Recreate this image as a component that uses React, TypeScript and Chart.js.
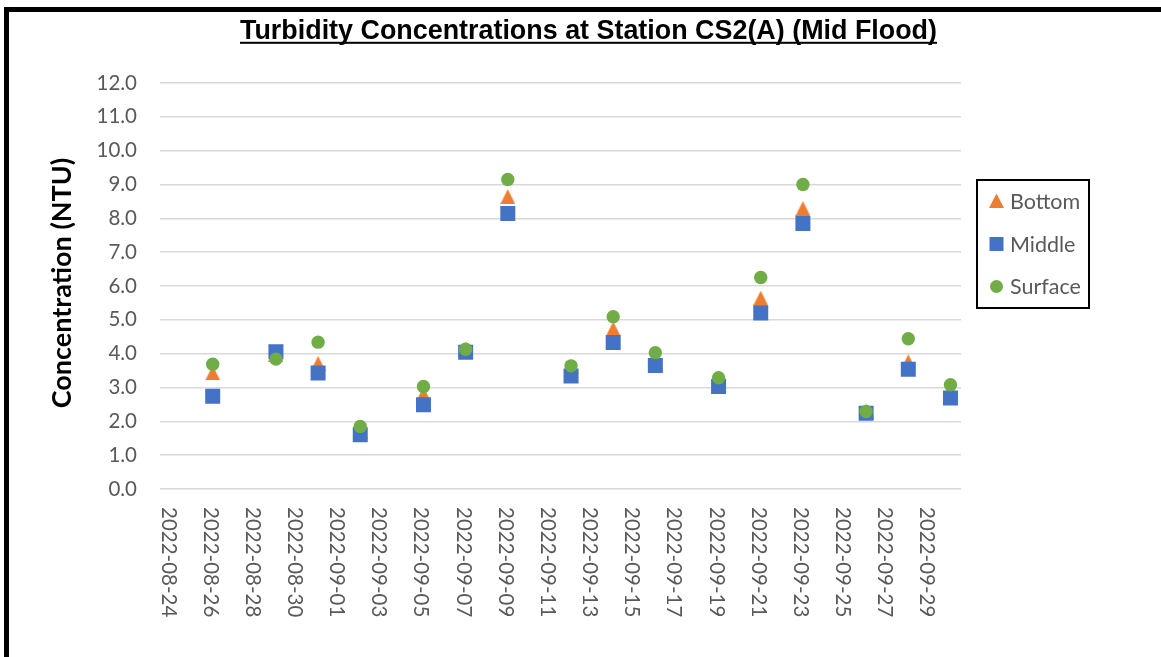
import React, { useEffect, useRef } from 'react';
import { Chart, registerables } from 'chart.js';

Chart.register(...registerables);

// Sampling dates and turbidity readings (NTU) at three depths
const sampleDates = [
  '2022-08-26', '2022-08-29', '2022-08-31', '2022-09-02', '2022-09-05', '2022-09-07',
  '2022-09-09', '2022-09-12', '2022-09-14', '2022-09-16', '2022-09-19', '2022-09-21',
  '2022-09-23', '2022-09-26', '2022-09-28', '2022-09-30',
];
const bottomNTU = [3.43, 3.98, 3.71, 1.7, 2.8, 4.13, 8.64, 3.62, 4.73, 3.72, 3.12, 5.64, 8.29, 2.3, 3.76, 2.92];
const middleNTU = [2.74, 4.06, 3.43, 1.6, 2.49, 4.04, 8.14, 3.34, 4.33, 3.65, 3.03, 5.2, 7.85, 2.24, 3.54, 2.69];
const surfaceNTU = [3.69, 3.84, 4.34, 1.85, 3.03, 4.13, 9.15, 3.64, 5.09, 4.03, 3.29, 6.25, 9.0, 2.29, 4.44, 3.08];

const axisFirstDay = '2022-08-24';
const axisLastDay = '2022-09-30';
const yMin = 0;
const yMax = 12;
const yStep = 1;

const chartTitle = 'Turbidity Concentrations at Station CS2(A) (Mid Flood)';
const yTitle = 'Concentration (NTU)';
const seriesNames = ['Bottom', 'Middle', 'Surface'];

const ORANGE = '#ED7D31';
const BLUE = '#4472C4';
const GREEN = '#70AD47';
const TICK_COLOR = '#595959';
const FONT = 'Lato, "Open Sans", sans-serif';

function dayLabels(first: string, last: string): string[] {
  const out: string[] = [];
  const d = new Date(first + 'T00:00:00Z');
  const end = new Date(last + 'T00:00:00Z');
  while (d.getTime() <= end.getTime()) {
    out.push(d.toISOString().slice(0, 10));
    d.setUTCDate(d.getUTCDate() + 1);
  }
  return out;
}

// Triangle marker that fills its square box, centred on the value
function triangleMarker(size: number, color: string): HTMLCanvasElement {
  const c = document.createElement('canvas');
  c.width = size;
  c.height = size;
  const g = c.getContext('2d')!;
  g.fillStyle = color;
  g.beginPath();
  g.moveTo(size / 2, 0);
  g.lineTo(size, size);
  g.lineTo(0, size);
  g.closePath();
  g.fill();
  return c;
}

const decorPlugin = {
  id: 'excelDecor',
  afterDraw(chart: any) {
    const ctx: CanvasRenderingContext2D = chart.ctx;
    const xScale = chart.scales.x;
    const labels: string[] = chart.data.labels;
    ctx.save();

    // outer frame (top and left edges)
    ctx.fillStyle = '#000';
    ctx.fillRect(4, 7, 1157, 5);
    ctx.fillRect(4, 7, 5, 650);

    // title, condensed bold and underlined
    ctx.font = 'bold 28.5px "Liberation Sans", Arial, sans-serif';
    const tw = ctx.measureText(chartTitle).width;
    const targetW = 697;
    const left = 240;
    ctx.save();
    ctx.translate(left, 38.5);
    ctx.scale(targetW / tw, 1);
    ctx.textAlign = 'left';
    ctx.textBaseline = 'alphabetic';
    ctx.fillText(chartTitle, 0, 0);
    ctx.restore();
    ctx.fillRect(left, 41.8, targetW, 2);

    // y axis title
    ctx.save();
    ctx.translate(62, 283);
    ctx.rotate(-Math.PI / 2);
    ctx.font = `bold 27px ${FONT}`;
    ctx.textAlign = 'center';
    ctx.textBaseline = 'middle';
    ctx.fillStyle = '#000';
    ctx.fillText(yTitle, 0, 0);
    ctx.restore();

    // x tick labels, every second day, rotated clockwise
    ctx.fillStyle = TICK_COLOR;
    ctx.font = `20.5px ${FONT}`;
    labels.forEach((lab, i) => {
      if (i % 2 !== 0) return;
      const px = xScale.getPixelForValue(i);
      ctx.save();
      ctx.translate(px - 9, 507);
      ctx.rotate(Math.PI / 2);
      ctx.textAlign = 'left';
      ctx.textBaseline = 'alphabetic';
      ctx.fillText(lab, 0, 0);
      ctx.restore();
    });

    // legend box
    ctx.strokeStyle = '#000';
    ctx.lineWidth = 2;
    ctx.strokeRect(977, 180, 112, 128);
    const rows = [201, 244, 286.5];
    const mx = 996.5;
    ctx.font = `21.5px ${FONT}`;
    ctx.textAlign = 'left';
    ctx.textBaseline = 'middle';
    rows.forEach((ry, k) => {
      if (k === 0) {
        ctx.fillStyle = ORANGE;
        ctx.beginPath();
        ctx.moveTo(mx, ry - 7.5);
        ctx.lineTo(mx + 7.5, ry + 7);
        ctx.lineTo(mx - 7.5, ry + 7);
        ctx.closePath();
        ctx.fill();
      } else if (k === 1) {
        ctx.fillStyle = BLUE;
        ctx.fillRect(mx - 7, ry - 7, 14, 14);
      } else {
        ctx.fillStyle = GREEN;
        ctx.beginPath();
        ctx.arc(mx, ry, 6.5, 0, Math.PI * 2);
        ctx.fill();
      }
      ctx.fillStyle = TICK_COLOR;
      ctx.fillText(seriesNames[k], 1010, ry + 1);
    });

    ctx.restore();
  },
};

export default function App() {
  const ref = useRef<HTMLCanvasElement>(null);

  useEffect(() => {
    const canvas = ref.current;
    if (!canvas) return;
    const labels = dayLabels(axisFirstDay, axisLastDay);
    const toPoints = (vals: number[]) => sampleDates.map((d, i) => ({ x: d, y: vals[i] }));

    const chart = new Chart(canvas, {
      type: 'line',
      data: {
        labels,
        datasets: [
          {
            label: seriesNames[0],
            data: toPoints(bottomNTU),
            showLine: false,
            pointStyle: triangleMarker(15, ORANGE) as any,
            pointRadius: 7.5,
            pointHoverRadius: 7.5,
            backgroundColor: ORANGE,
            borderColor: ORANGE,
            pointBorderWidth: 0,
            order: 3,
          },
          {
            label: seriesNames[1],
            data: toPoints(middleNTU),
            showLine: false,
            pointStyle: 'rect',
            pointRadius: 10.6,
            pointHoverRadius: 10.6,
            backgroundColor: BLUE,
            borderColor: BLUE,
            pointBorderWidth: 0,
            order: 2,
          },
          {
            label: seriesNames[2],
            data: toPoints(surfaceNTU),
            showLine: false,
            pointStyle: 'circle',
            pointRadius: 6.7,
            pointHoverRadius: 6.7,
            backgroundColor: GREEN,
            borderColor: GREEN,
            pointBorderWidth: 0,
            order: 1,
          },
        ],
      },
      options: {
        animation: false,
        responsive: false,
        devicePixelRatio: 1,
        layout: { padding: { left: 0, top: 83, right: 200, bottom: 0 } },
        plugins: {
          legend: { display: false },
          title: { display: false },
          tooltip: { enabled: false },
        },
        scales: {
          x: {
            type: 'category',
            offset: true,
            grid: { display: false },
            border: { display: false },
            ticks: { display: false },
            afterFit: (scale: any) => {
              scale.height = 168;
            },
          },
          y: {
            min: yMin,
            max: yMax,
            grid: { color: '#d9d9d9', lineWidth: 1.6, drawTicks: false },
            border: { display: false },
            ticks: {
              stepSize: yStep,
              padding: 23,
              color: TICK_COLOR,
              font: { family: FONT, size: 20.5 },
              callback: (v: any) => Number(v).toFixed(1),
            },
            afterFit: (scale: any) => {
              scale.width = 160;
            },
          },
        },
      },
      plugins: [decorPlugin],
    });
    return () => chart.destroy();
  }, []);

  return (
    <canvas
      ref={ref}
      width={1161}
      height={657}
      style={{ position: 'absolute', left: 0, top: 0, display: 'block', background: '#fff' }}
    />
  );
}
